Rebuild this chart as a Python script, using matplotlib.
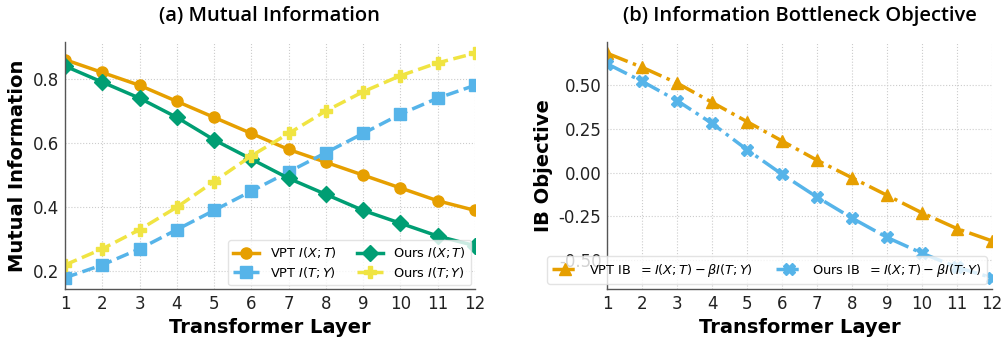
import numpy as np
import matplotlib
matplotlib.use("Agg")
import matplotlib.pyplot as plt
from matplotlib import ticker

plt.rcParams["font.family"] = ["DejaVu Sans"]
plt.rcParams["mathtext.fontset"] = "dejavusans"

layers = np.arange(1, 13)

# (a) mutual information per layer
vpt_ixt = [0.86, 0.82, 0.78, 0.73, 0.68, 0.63, 0.58, 0.54, 0.50, 0.46, 0.42, 0.39]
vpt_ity = [0.18, 0.22, 0.27, 0.33, 0.39, 0.45, 0.51, 0.57, 0.63, 0.69, 0.74, 0.78]
ours_ixt = [0.84, 0.79, 0.74, 0.68, 0.61, 0.55, 0.49, 0.44, 0.39, 0.35, 0.31, 0.28]
ours_ity = [0.22, 0.27, 0.33, 0.40, 0.48, 0.56, 0.63, 0.70, 0.76, 0.81, 0.85, 0.88]

# (b) IB objective per layer
vpt_ib = [0.68, 0.60, 0.51, 0.40, 0.29, 0.18, 0.07, -0.03, -0.13, -0.23, -0.32, -0.39]
ours_ib = [0.62, 0.52, 0.41, 0.28, 0.13, -0.01, -0.14, -0.26, -0.37, -0.46, -0.54, -0.60]

ORANGE, BLUE, GREEN, YELLOW = "#E69F00", "#56B4E9", "#009E73", "#F0E442"
TITLE_FONT = ["Open Sans", "DejaVu Sans"]

fig = plt.figure(figsize=(10.04, 3.39), dpi=100, facecolor="white")
axA = fig.add_axes([0.0647, 0.1475, 0.4084, 0.7286])
axB = fig.add_axes([0.6046, 0.1475, 0.3835, 0.7286])

def style(ax, title, ylabel):
    ax.grid(True, ls=":", color="#cccccc", lw=0.8)
    ax.set_axisbelow(True)
    for s in ("top", "right"):
        ax.spines[s].set_visible(False)
    for s in ("left", "bottom"):
        ax.spines[s].set_color("#555555")
        ax.spines[s].set_linewidth(1.0)
    ax.tick_params(length=0, labelsize=12, colors="#222222", pad=4)
    ax.set_xlim(1, 12)
    ax.set_xticks(layers)
    ax.set_xlabel("Transformer Layer", fontsize=14, fontweight="bold", labelpad=4)
    ax.set_ylabel(ylabel, fontsize=14, fontweight="bold", labelpad=4)
    ax.set_title(title, fontsize=14.5, family=TITLE_FONT, fontweight="semibold", pad=15)

kw = dict(lw=2.5, ms=8)
leg_kw = dict(fontsize=9.3, framealpha=0.8, edgecolor="#dddddd", labelspacing=0.35)

axA.plot(layers, vpt_ixt, "-", marker="o", color=ORANGE, label="VPT $I(X;T)$", **kw)
axA.plot(layers, vpt_ity, "--", marker="s", color=BLUE, label="VPT $I(T;Y)$", **kw)
axA.plot(layers, ours_ixt, "-", marker="D", color=GREEN, label="Ours $I(X;T)$", **kw)
axA.plot(layers, ours_ity, "--", marker="P", color=YELLOW, label="Ours $I(T;Y)$", **kw)
axA.set_yticks([0.2, 0.4, 0.6, 0.8])
style(axA, "(a) Mutual Information", "Mutual Information")
axA.legend(loc="lower right", ncol=2, columnspacing=1.6, borderaxespad=0.3, **leg_kw)

axB.plot(layers, vpt_ib, "-.", marker="^", color=ORANGE,
         label=r"VPT IB  $=I(X;T)-\beta I(T;Y)$", **kw)
axB.plot(layers, ours_ib, "-.", marker="X", color=BLUE,
         label=r"Ours IB  $=I(X;T)-\beta I(T;Y)$", **kw)
axB.set_yticks([-0.5, -0.25, 0.0, 0.25, 0.5])
axB.yaxis.set_major_formatter(ticker.FormatStrFormatter("%.2f"))
style(axB, "(b) Information Bottleneck Objective", "IB Objective")
axB.legend(loc="lower right", ncol=2, columnspacing=1.8, borderaxespad=0.4, **leg_kw)

fig.savefig("out.png", dpi=100, facecolor="white")
